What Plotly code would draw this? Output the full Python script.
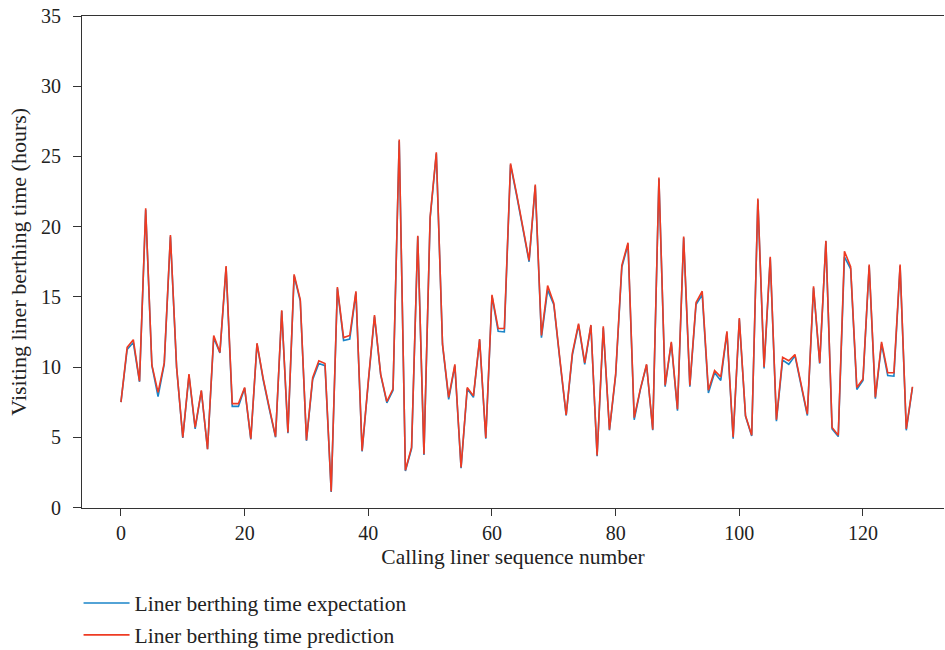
import plotly.graph_objects as go

seq = list(range(129))

expectation = [
    7.5, 11.25, 11.75, 8.95, 21.2, 10.1, 7.9, 10.2, 19.3, 9.95,
    4.95, 9.4, 5.6, 8.3, 4.15, 12.1, 11.0, 17.1, 7.2, 7.2,
    8.5, 4.85, 11.65, 9.1, 7.0, 5.0, 14.0, 5.3, 16.5, 14.7,
    4.75, 9.1, 10.25, 10.1, 1.1, 15.6, 11.9, 12.0, 15.3, 4.0,
    8.9, 13.6, 9.45, 7.45, 8.35, 26.1, 2.6, 4.2, 19.3, 3.75,
    20.6, 25.2, 11.6, 7.7, 10.1, 2.8, 8.45, 7.85, 11.95, 4.9,
    15.05, 12.55, 12.5, 24.4, 22.2, 19.8, 17.5, 22.9, 12.1, 15.5,
    14.45, 10.4, 6.55, 10.85, 13.0, 10.2, 12.95, 3.65, 12.8, 5.5,
    9.4, 17.1, 18.75, 6.25, 8.4, 10.15, 5.5, 23.4, 8.6, 11.7,
    6.9, 19.2, 8.6, 14.45, 15.15, 8.15, 9.6, 9.05, 12.45, 4.9,
    13.4, 6.5, 5.1, 21.9, 9.9, 17.75, 6.15, 10.5, 10.2, 10.8,
    8.7, 6.55, 15.65, 10.25, 18.95, 5.6, 5.05, 17.85, 17.0, 8.4,
    9.05, 17.2, 7.75, 11.65, 9.4, 9.35, 17.2, 5.5, 8.55,
]

prediction = [
    7.5, 11.4, 11.95, 9.0, 21.3, 10.15, 8.2, 10.3, 19.4, 10.0,
    5.0, 9.5, 5.7, 8.35, 4.15, 12.25, 11.05, 17.2, 7.4, 7.4,
    8.55, 4.9, 11.7, 9.2, 7.1, 5.05, 14.05, 5.35, 16.6, 14.8,
    4.8, 9.25, 10.45, 10.25, 1.15, 15.7, 12.1, 12.25, 15.4, 4.05,
    9.0, 13.7, 9.5, 7.55, 8.45, 26.2, 2.65, 4.3, 19.35, 3.8,
    20.7, 25.3, 11.65, 7.85, 10.2, 2.85, 8.55, 7.95, 12.0, 4.95,
    15.15, 12.75, 12.75, 24.5, 22.3, 19.9, 17.6, 23.0, 12.25, 15.8,
    14.55, 10.5, 6.6, 11.0, 13.1, 10.3, 13.0, 3.7, 12.9, 5.55,
    9.5, 17.25, 18.85, 6.4, 8.45, 10.2, 5.55, 23.5, 8.7, 11.8,
    7.0, 19.3, 8.7, 14.6, 15.4, 8.35, 9.75, 9.3, 12.55, 5.0,
    13.5, 6.55, 5.15, 22.0, 10.0, 17.85, 6.25, 10.7, 10.45, 10.9,
    8.8, 6.65, 15.75, 10.3, 19.0, 5.7, 5.15, 18.25, 17.15, 8.55,
    9.15, 17.3, 7.85, 11.8, 9.6, 9.6, 17.3, 5.6, 8.6,
]

x_ticks = [0, 20, 40, 60, 80, 100, 120]
y_ticks = [0, 5, 10, 15, 20, 25, 30, 35]

FONT = "Liberation Serif"
AXIS_COLOR = "#333333"
TEXT_COLOR = "#222222"

W, H = 945, 650
TOP, PLOT_BOTTOM = 16, 507
LEGEND_TOP = 582.5
PAPER_BOTTOM = 570.9  # bottom of the paper area once the legend reserves its space
paper_h = PAPER_BOTTOM - TOP

fig = go.Figure()
fig.add_trace(go.Scatter(
    x=seq, y=expectation, mode="lines",
    name="Liner berthing time expectation", legendgroup="a",
    line=dict(color="#1a85c8", width=1.6),
))
fig.add_trace(go.Scatter(
    x=seq, y=prediction, mode="lines",
    name="Liner berthing time prediction", legendgroup="b",
    line=dict(color="#ee3b23", width=1.6),
))

fig.update_layout(
    width=W, height=H,
    margin=dict(l=82, r=1, t=TOP, b=0),
    plot_bgcolor="white", paper_bgcolor="white",
    font=dict(family=FONT, size=21.5, color=TEXT_COLOR),
    showlegend=True,
    legend=dict(
        x=-0.004, xref="paper", xanchor="left",
        y=(H - LEGEND_TOP) / H, yref="container", yanchor="top",
        orientation="v", bgcolor="rgba(0,0,0,0)",
        font=dict(family=FONT, size=21.5, color=TEXT_COLOR),
        itemwidth=46, tracegroupgap=1, traceorder="grouped",
    ),
)

fig.update_xaxes(
    range=[-6.3, 133.1], tickvals=x_ticks,
    ticks="outside", ticklen=7, tickcolor=AXIS_COLOR, tickwidth=1,
    ticklabelstandoff=0,
    showline=True, linecolor=AXIS_COLOR, linewidth=1, mirror=True,
    showgrid=False, zeroline=False,
    title=dict(text="Calling liner sequence number", standoff=6,
               font=dict(family=FONT, size=21.5)),
    tickfont=dict(family=FONT, size=20),
)
fig.update_yaxes(
    range=[0, 35], tickvals=y_ticks,
    domain=[(PAPER_BOTTOM - PLOT_BOTTOM) / paper_h, 1],
    ticks="outside", ticklen=8, tickcolor=AXIS_COLOR, tickwidth=1,
    ticklabelstandoff=8,
    showline=True, linecolor=AXIS_COLOR, linewidth=1,
    showgrid=False, zeroline=False,
    title=dict(text="Visiting liner berthing time (hours)", standoff=8,
               font=dict(family=FONT, size=22)),
    tickfont=dict(family=FONT, size=20),
)

fig.write_html("out.html")
